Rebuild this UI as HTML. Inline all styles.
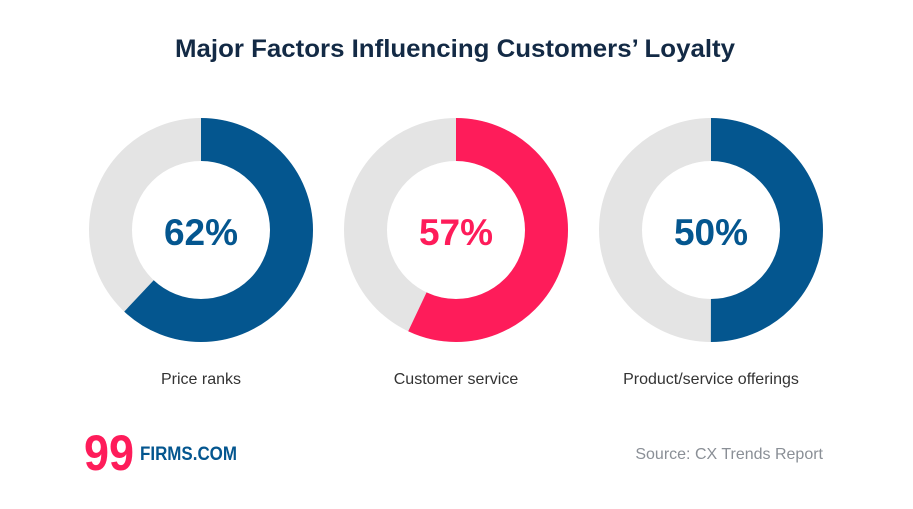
<!DOCTYPE html>
<html><head><meta charset="utf-8"><style>
body{margin:0;width:913px;height:504px;background:#fff;overflow:hidden;font-family:"Liberation Sans",sans-serif}
</style></head><body>
<svg width="913" height="504" viewBox="0 0 913 504" xmlns="http://www.w3.org/2000/svg">
<text x="175" y="57" textLength="560" lengthAdjust="spacingAndGlyphs" font-family="Liberation Sans" font-weight="bold" font-size="25" fill="#132a45">Major Factors Influencing Customers’ Loyalty</text>
<g fill="none" stroke-width="43">
<circle cx="201" cy="230" r="90.5" stroke="#e4e4e4"/>
<circle cx="201" cy="230" r="90.5" stroke="#04568f" stroke-dasharray="352.5 1000" transform="rotate(-90 201 230)"/>
<circle cx="456" cy="230" r="90.5" stroke="#e4e4e4"/>
<circle cx="456" cy="230" r="90.5" stroke="#fe1c5a" stroke-dasharray="324.1 1000" transform="rotate(-90 456 230)"/>
<circle cx="711" cy="230" r="90.5" stroke="#e4e4e4"/>
<circle cx="711" cy="230" r="90.5" stroke="#04568f" stroke-dasharray="284.3 1000" transform="rotate(-90 711 230)"/>
</g>
<g font-family="Liberation Sans" font-weight="bold" font-size="37" text-anchor="middle">
<text x="201" y="245" fill="#04568f">62%</text>
<text x="456" y="245" fill="#fe1c5a">57%</text>
<text x="711" y="245" fill="#04568f">50%</text>
</g>
<g font-family="Liberation Sans" font-size="16" fill="#333" text-anchor="middle">
<text x="201" y="384">Price ranks</text>
<text x="456" y="384">Customer service</text>
<text x="711" y="384">Product/service offerings</text>
</g>
<text x="823" y="459" text-anchor="end" font-family="Liberation Sans" font-size="16" fill="#8a8f96">Source: CX Trends Report</text>
<text x="84" y="470" textLength="50" lengthAdjust="spacingAndGlyphs" font-family="Liberation Sans" font-weight="bold" font-size="50" fill="#fe1c5a">99</text>
<text x="140" y="460" textLength="97" lengthAdjust="spacingAndGlyphs" font-family="Liberation Sans" font-weight="bold" font-size="19" fill="#04568f">FIRMS.COM</text>
</svg>
</body></html>
